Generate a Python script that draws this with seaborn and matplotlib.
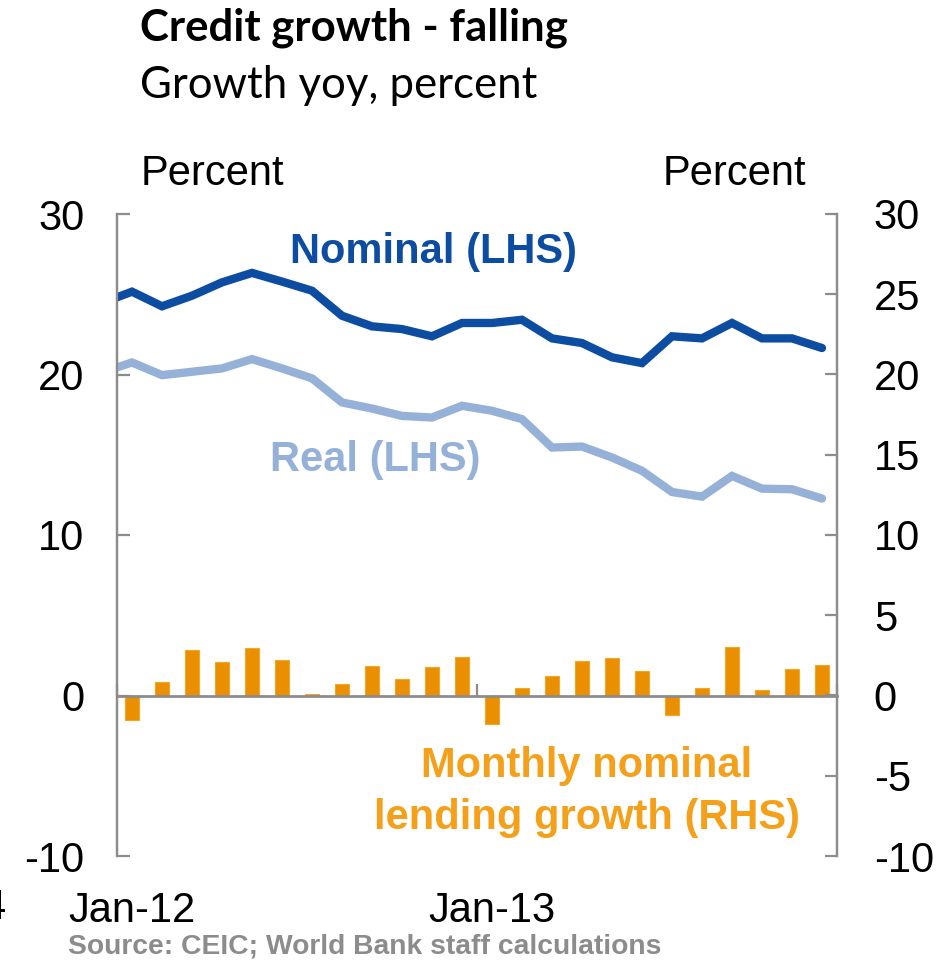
import numpy as np
import pandas as pd
import matplotlib
matplotlib.use("Agg")
import matplotlib.pyplot as plt
import seaborn as sns

# ---------------- data ----------------
line_months = ["Dec-11",
               "Jan-12", "Feb-12", "Mar-12", "Apr-12", "May-12", "Jun-12",
               "Jul-12", "Aug-12", "Sep-12", "Oct-12", "Nov-12", "Dec-12",
               "Jan-13", "Feb-13", "Mar-13", "Apr-13", "May-13", "Jun-13",
               "Jul-13", "Aug-13", "Sep-13", "Oct-13", "Nov-13", "Dec-13"]
nominal = [24.46, 25.16, 24.25, 24.91, 25.74, 26.33, 25.79, 25.22, 23.66, 23.00,
           22.83, 22.38, 23.21, 23.21, 23.41, 22.25, 21.96, 21.07, 20.71, 22.38,
           22.25, 23.21, 22.25, 22.25, 21.65]
real = [20.13, 20.75, 19.96, 20.17, 20.38, 20.96, 20.38, 19.76, 18.26, 17.88,
        17.42, 17.32, 18.05, 17.74, 17.22, 15.45, 15.51, 14.83, 14.00, 12.68,
        12.39, 13.68, 12.89, 12.85, 12.27]
bar_months = line_months[1:]
monthly = [-1.50, 0.85, 2.85, 2.08, 2.93, 2.20, 0.08, 0.73, 1.83, 1.04, 1.75, 2.41,
           -1.79, 0.44, 1.23, 2.18, 2.31, 1.50, -1.21, 0.46, 3.02, 0.35, 1.68, 1.93]
xtick_labels = ["Jan-12", "Jan-13"]
left_ticks = [-10, 0, 10, 20, 30]
right_ticks = [-10, -5, 0, 5, 10, 15, 20, 25, 30]

# ---------------- style ----------------
sns.set_theme(style="white")
plt.rcParams["font.family"] = ["Liberation Sans", "DejaVu Sans"]
plt.rcParams["text.color"] = "black"

C_NOM = "#0C4DA2"
C_REAL = "#95B1D8"
C_BAR = "#EA9000"
C_BARTXT = "#F5A01A"
C_AX = "#8C8C8C"
W, H = 939, 961
FS = 30

fig = plt.figure(figsize=(W / 100, H / 100), dpi=100)
ax = fig.add_axes([117 / W, 1 - 856 / H, (837 - 117) / W, (856 - 214) / H])
ax2 = ax.twinx()

# bars (left axis, same scale as right)
bar_df = pd.DataFrame({"month": bar_months, "value": monthly})
sns.barplot(data=bar_df, x="month", y="value", order=bar_months, ax=ax,
            color=C_BAR, saturation=1, width=0.47, edgecolor="#F5A623",
            linewidth=0.8)

# lines
line_df = pd.DataFrame({"pos": np.arange(len(line_months)) - 1,
                        "nominal": nominal, "real": real})
sns.lineplot(data=line_df, x="pos", y="real", ax=ax2, color=C_REAL, lw=6.0,
             solid_joinstyle="miter")
sns.lineplot(data=line_df, x="pos", y="nominal", ax=ax2, color=C_NOM, lw=6.0,
             solid_joinstyle="miter")

for a in (ax, ax2):
    a.set_ylim(-10, 30)
    a.set_xlim(-0.5, 23.5)
    a.set_xlabel("")
    a.set_ylabel("")
    a.grid(False)
    for s in a.spines.values():
        s.set_color(C_AX)
        s.set_linewidth(1.6)
    a.spines["top"].set_visible(False)

ax.set_yticks(left_ticks)
ax.set_yticklabels([str(t) for t in left_ticks])
ax2.set_yticks(right_ticks)
ax2.set_yticklabels([str(t) for t in right_ticks])
ax.tick_params(axis="y", direction="in", length=9, width=1.6, color=C_AX,
               labelsize=FS, pad=23.5, labelcolor="black", left=True)
ax2.tick_params(axis="y", direction="in", length=9, width=1.6, color=C_AX,
                labelsize=FS, pad=26.5, labelcolor="black", right=True)

# x axis line at zero with boundary ticks pointing up
ax.spines["bottom"].set_position(("data", 0))
ax.spines["bottom"].set_linewidth(2.0)
ax.set_xticks([-0.5, 11.5, 23.5])
ax.set_xticklabels([])
ax.tick_params(axis="x", direction="in", length=9, width=1.6, color=C_AX,
               bottom=True)
ax2.spines["bottom"].set_visible(False)

sec = ax.secondary_xaxis("bottom")
sec.spines["bottom"].set_visible(False)
sec.set_xticks([0, 12])
sec.set_xticklabels(xtick_labels)
sec.tick_params(axis="x", length=0, labelsize=FS, pad=25, labelcolor="black")

# ---------------- texts ----------------
def fx(x):
    return x / W

def fy(y):
    return 1 - y / H

fig.text(fx(140), fy(28), "Credit growth - falling", family=["Lato", "DejaVu Sans"],
         weight="bold", fontsize=31.5, va="center", ha="left", color="black")
fig.text(fx(140), fy(85), "Growth yoy, percent", family=["Lato", "DejaVu Sans"],
         fontsize=31.5, va="center", ha="left", color="black")
fig.text(fx(141), fy(174), "Percent", fontsize=FS, va="center", ha="left",
         color="black")
fig.text(fx(806), fy(174), "Percent", fontsize=FS, va="center", ha="right",
         color="black")
fig.text(fx(433), fy(252), "Nominal (LHS)", fontsize=FS, weight="bold",
         color=C_NOM, ha="center", va="center")
fig.text(fx(375), fy(460), "Real (LHS)", fontsize=FS, weight="bold",
         color=C_REAL, ha="center", va="center")
fig.text(fx(587), fy(766), "Monthly nominal", fontsize=FS, weight="bold",
         color=C_BARTXT, ha="center", va="center")
fig.text(fx(587), fy(818), "lending growth (RHS)", fontsize=FS, weight="bold",
         color=C_BARTXT, ha="center", va="center")
fig.text(fx(68), fy(946), "Source: CEIC; World Bank staff calculations",
         fontsize=20.3, weight="bold", color=C_AX, ha="left", va="center")
fig.text(fx(6), fy(908), "4", fontsize=FS, ha="right", va="center",
         color="black")

fig.savefig("out.png", dpi=100)
